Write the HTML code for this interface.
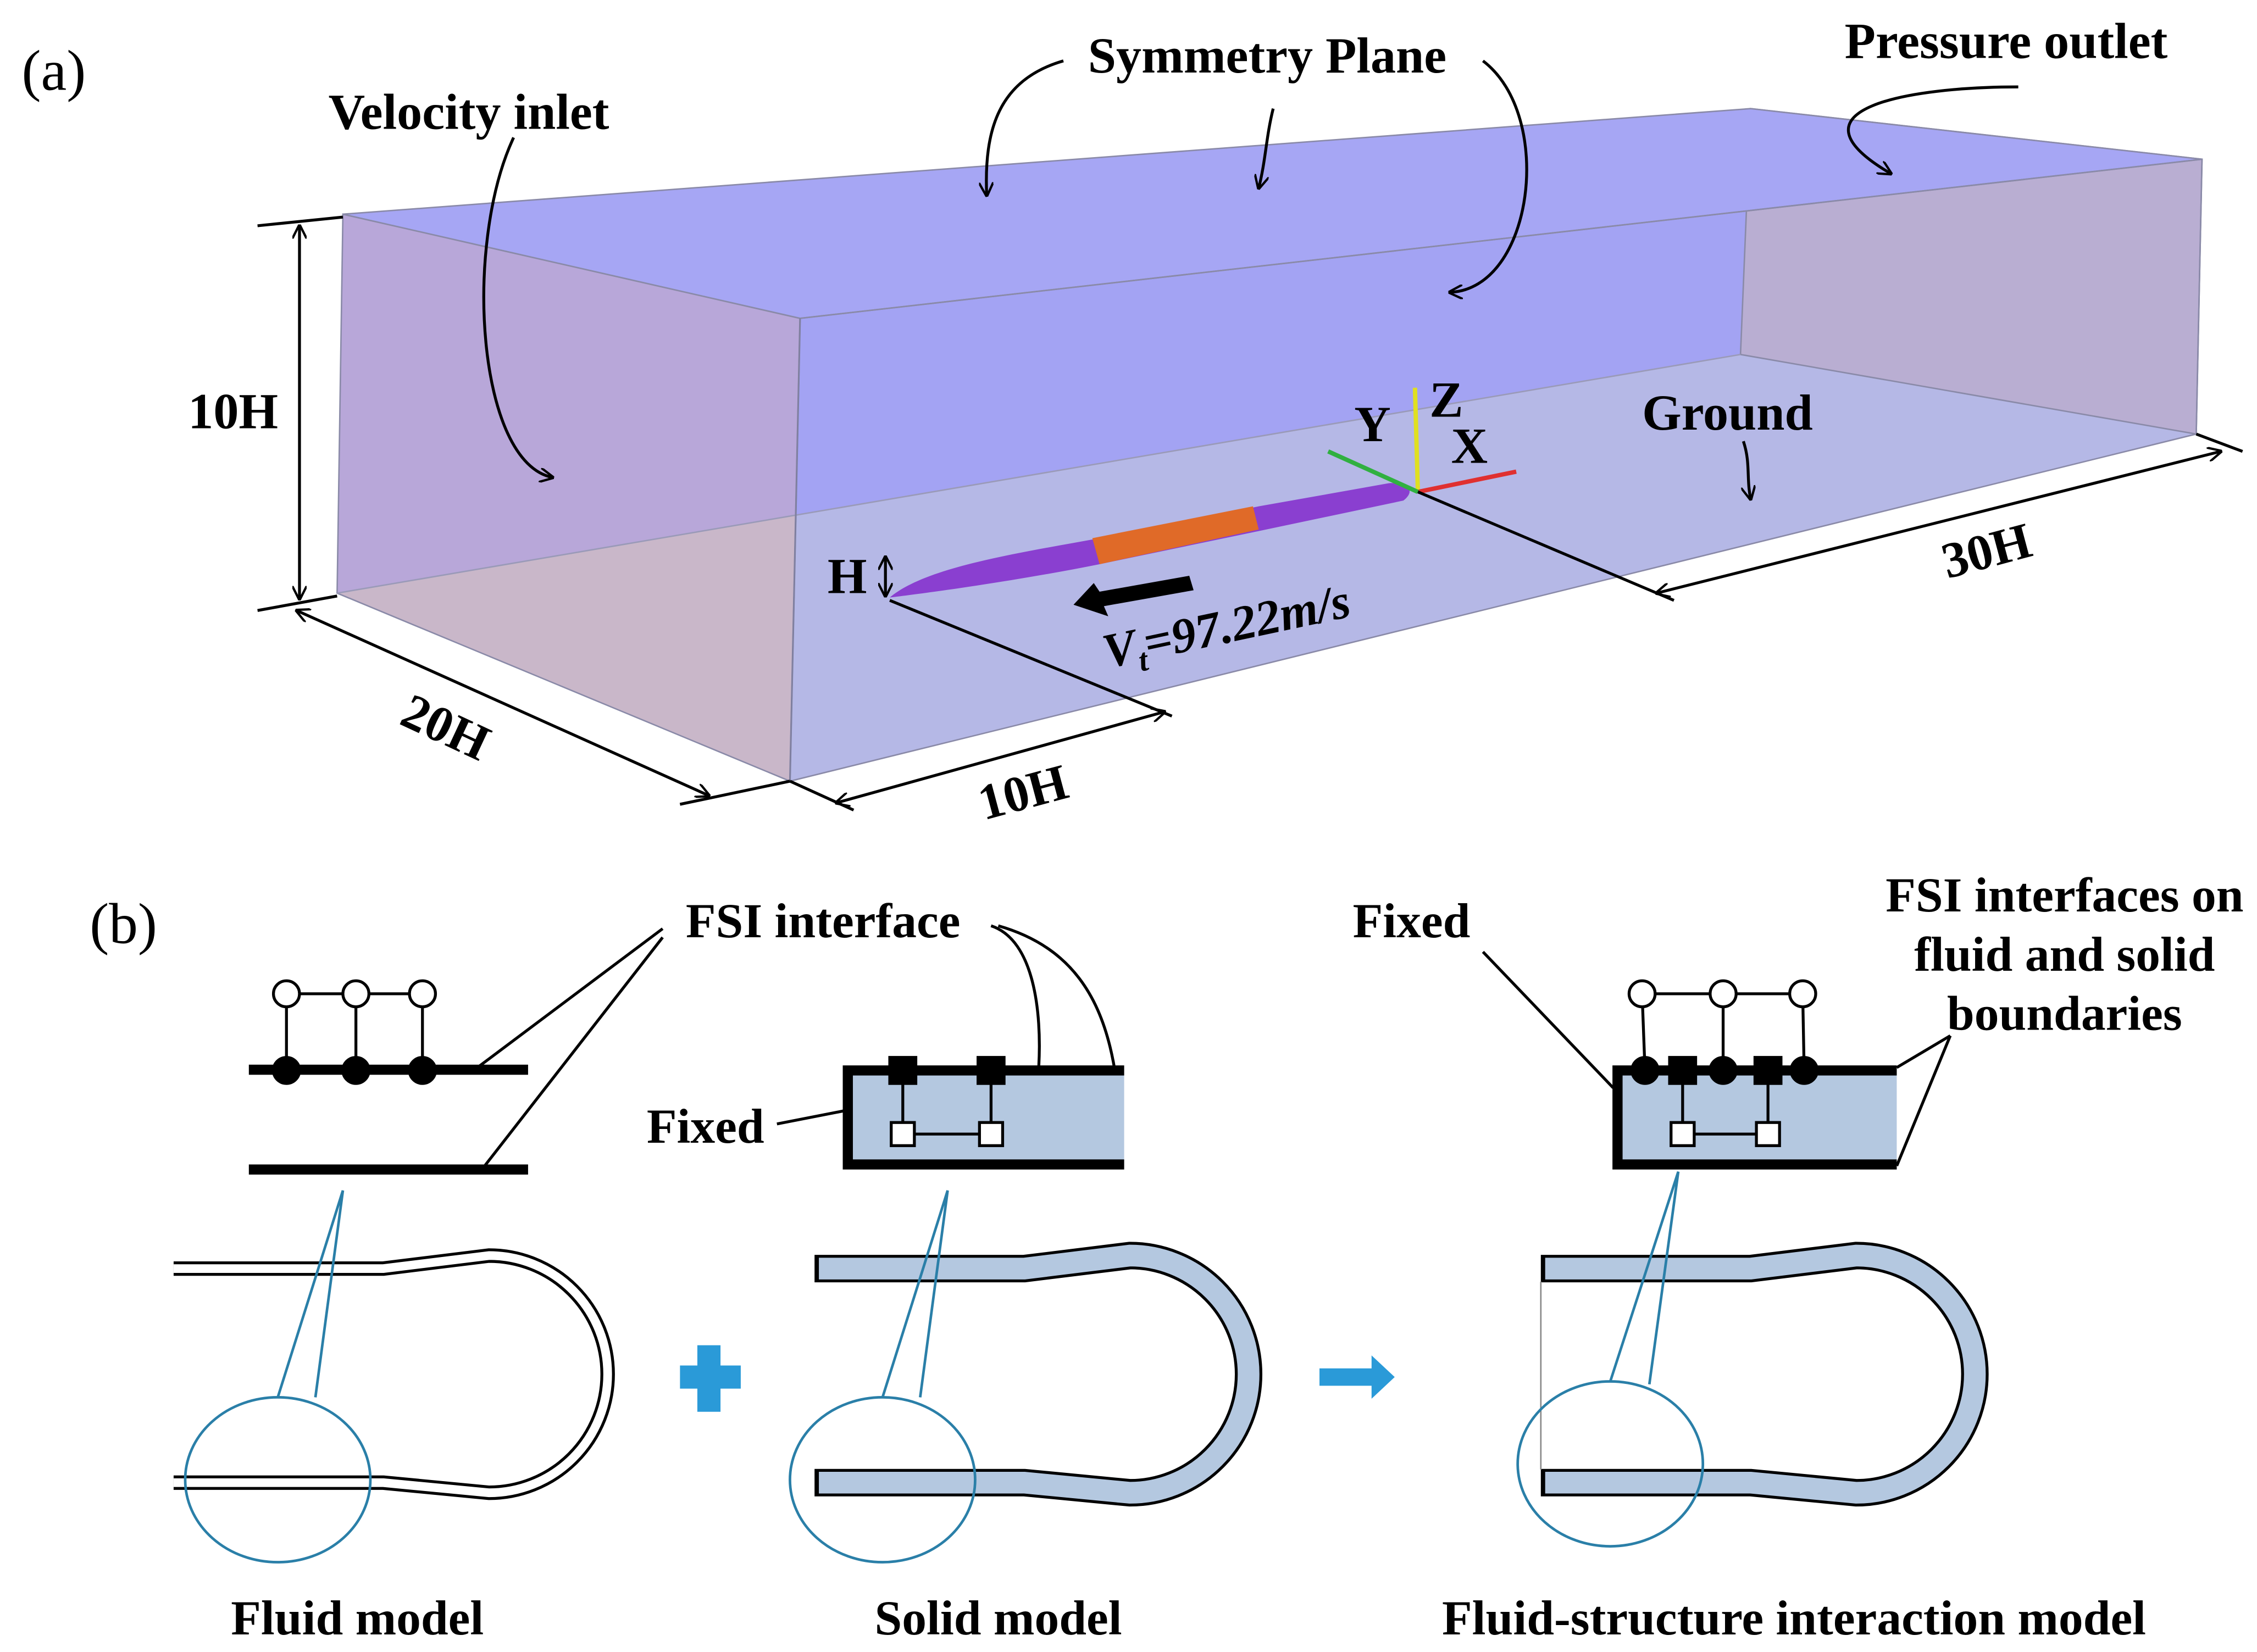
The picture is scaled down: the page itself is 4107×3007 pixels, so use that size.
<!DOCTYPE html>
<html><head><meta charset="utf-8"><style>
html,body{margin:0;padding:0;background:#fff}
svg{display:block}
text{font-family:"Liberation Serif",serif;font-weight:bold;fill:#000}
text.n{font-weight:normal}
text.i{font-style:italic}
</style></head><body>
<svg width="4107" height="3007" viewBox="0 0 1560 1142" xmlns="http://www.w3.org/2000/svg">
<defs>
<marker id="ah" markerWidth="10" markerHeight="10" refX="9" refY="5" orient="auto" markerUnits="userSpaceOnUse"><path d="M0,0 L10,5 L0,10" fill="none" stroke="#000" stroke-width="1.6"/></marker>
<marker id="as" markerWidth="10" markerHeight="10" refX="1" refY="5" orient="auto" markerUnits="userSpaceOnUse"><path d="M10,0 L0,5 L10,10" fill="none" stroke="#000" stroke-width="1.6"/></marker>
</defs>
<rect width="1560" height="1142" fill="#fff"/>
<polygon points="237,148 1210,75 1203,245 233,410" fill="#a3a3f3"/>
<polygon points="233,410 1203,245 1518,300 546,540" fill="#b5b8e6"/>
<polygon points="237,148 553,220 550,356 233,410" fill="#b8a7d9"/>
<polygon points="233,410 550,356 546,540" fill="#c9b7c9"/>
<polygon points="237,148 553,220 546,540 233,410" fill="none" stroke="#8a8aa8" stroke-width="1"/>
<polygon points="1210,75 1522,110 1518,300 1203,245" fill="#b9aed2" stroke="#8a8aa8" stroke-width="1"/>
<polygon points="237,148 1210,75 1522,110 553,220" fill="#a6a6f4" stroke="#8a8aa8" stroke-width="1"/>
<polygon points="553,220 1522,110 1518,300 546,540" fill="none" stroke="#8a8aa8" stroke-width="1"/>
<line x1="233" y1="410" x2="1203" y2="245" stroke="#9a9ab8" stroke-width="1"/>
<line x1="553" y1="220" x2="546" y2="540" stroke="#8080a0" stroke-width="1.2"/>
<path d="M615,413 C640,392 700,383 760,372 L870,350 L960,334 C975,333 978,340 970,346 L880,365 L760,390 C700,402 640,410 615,413 Z" fill="#8a3fd0"/>
<path d="M755,372 L866,350 L870,366 L760,390 Z" fill="#e06a28"/>
<line x1="980" y1="340" x2="978" y2="268" stroke="#e0e020" stroke-width="3"/>
<line x1="980" y1="340" x2="1048" y2="326" stroke="#e03030" stroke-width="3"/>
<line x1="980" y1="340" x2="918" y2="312" stroke="#30b040" stroke-width="3"/>
<g stroke="#000" stroke-width="2" fill="none">
<line x1="178" y1="156" x2="237" y2="150"/>
<line x1="178" y1="422" x2="233" y2="412"/>
<line x1="207" y1="156" x2="207" y2="414" marker-start="url(#as)" marker-end="url(#ah)"/>
<line x1="205" y1="422" x2="490" y2="550" marker-start="url(#as)" marker-end="url(#ah)"/>
<line x1="470" y1="556" x2="546" y2="540"/>
<line x1="578" y1="555" x2="805" y2="492" marker-start="url(#as)" marker-end="url(#ah)"/>
<line x1="546" y1="540" x2="590" y2="560"/>
<line x1="615" y1="415" x2="810" y2="495"/>
<line x1="980" y1="340" x2="1157" y2="415"/>
<line x1="1145" y1="410" x2="1535" y2="312" marker-start="url(#as)" marker-end="url(#ah)"/>
<line x1="1518" y1="300" x2="1550" y2="312"/>
<line x1="612" y1="385" x2="612" y2="412" marker-start="url(#as)" marker-end="url(#ah)"/>
<path d="M355,95 C320,170 330,320 382,330" marker-end="url(#ah)"/>
<path d="M735,42 C690,55 680,90 682,135" marker-end="url(#ah)"/>
<path d="M880,75 C875,95 875,110 870,130" marker-end="url(#ah)"/>
<path d="M1025,42 C1075,80 1060,200 1002,202" marker-end="url(#ah)"/>
<path d="M1395,60 C1320,60 1230,75 1307,120" marker-end="url(#ah)"/>
<path d="M1205,305 C1210,320 1207,330 1210,345" marker-end="url(#ah)"/>
</g>
<polygon points="742,418 756,403 760,409 822,398 825,408 763,419 766,426" fill="#000"/>
<g font-size="35">
<text class="n" x="15" y="62" font-size="40">(a)</text>
<text x="227" y="89">Velocity inlet</text>
<text x="752" y="50">Symmetry Plane</text>
<text x="1275" y="40">Pressure outlet</text>
<text x="130" y="296">10H</text>
<text x="1135" y="297">Ground</text>
<text x="572" y="410">H</text>
<text x="936" y="305">Y</text>
<text x="988" y="288">Z</text>
<text x="1003" y="320">X</text>
<text class="i" transform="translate(765,462) rotate(-12)" font-size="34">V<tspan font-size="22" dy="7">t</tspan><tspan dy="-7">=97.22m/s</tspan></text>
<text transform="translate(275,500) rotate(25)">20H</text>
<text transform="translate(680,567) rotate(-15)">10H</text>
<text transform="translate(1346,400) rotate(-15)">30H</text>
</g>
<g font-size="34">
<text class="n" x="62" y="652" font-size="40">(b)</text>
<text x="474" y="648">FSI interface</text>
<text x="447" y="790">Fixed</text>
<text x="935" y="648">Fixed</text>
<text x="1427" y="630" text-anchor="middle">FSI interfaces on</text>
<text x="1427" y="671" text-anchor="middle">fluid and solid</text>
<text x="1427" y="712" text-anchor="middle">boundaries</text>
<text x="247" y="1130" text-anchor="middle">Fluid model</text>
<text x="690" y="1130" text-anchor="middle">Solid model</text>
<text x="1240" y="1130" text-anchor="middle">Fluid-structure interaction model</text>
</g>
<g stroke="#000" stroke-width="2" fill="none">
<line x1="458" y1="642" x2="330" y2="738"/>
<line x1="458" y1="648" x2="335" y2="806"/>
<path d="M685,640 C715,650 720,700 718,737"/>
<path d="M690,640 C760,660 775,720 775,806"/>
<line x1="537" y1="777" x2="583" y2="768"/>
<line x1="1025" y1="658" x2="1115" y2="752"/>
<line x1="1348" y1="716" x2="1311" y2="738"/>
<line x1="1348" y1="716" x2="1311" y2="806"/>
</g>
<rect x="172" y="736" width="193" height="7" fill="#000"/>
<rect x="172" y="805" width="193" height="7" fill="#000"/>
<g stroke="#000" stroke-width="2" fill="#fff">
<line x1="198" y1="687" x2="198" y2="740"/><line x1="246" y1="687" x2="246" y2="740"/><line x1="292" y1="687" x2="292" y2="740"/>
<line x1="198" y1="687" x2="292" y2="687"/>
<circle cx="198" cy="687" r="9"/><circle cx="246" cy="687" r="9"/><circle cx="292" cy="687" r="9"/>
<circle cx="198" cy="740" r="9" fill="#000"/><circle cx="246" cy="740" r="9" fill="#000"/><circle cx="292" cy="740" r="9" fill="#000"/>
</g>
<rect x="583" y="737" width="194" height="71" fill="#b4c8e0"/>
<path d="M777,740 H586 V805 H777" fill="none" stroke="#000" stroke-width="7"/>
<g stroke="#000" stroke-width="2" fill="#fff">
<path d="M624,740 V784 H685 V740" fill="none"/>
<rect x="615" y="731" width="18" height="18" fill="#000"/><rect x="676" y="731" width="18" height="18" fill="#000"/>
<rect x="616" y="776" width="16" height="16"/><rect x="677" y="776" width="16" height="16"/>
</g>
<rect x="1115" y="737" width="196" height="71" fill="#b4c8e0"/>
<path d="M1311,740 H1118 V805 H1311" fill="none" stroke="#000" stroke-width="7"/>
<g stroke="#000" stroke-width="2" fill="#fff">
<path d="M1163,740 V784 H1222 V740" fill="none"/>
<line x1="1135" y1="687" x2="1137" y2="740"/><line x1="1191" y1="687" x2="1191" y2="740"/><line x1="1246" y1="687" x2="1247" y2="740"/>
<line x1="1135" y1="687" x2="1246" y2="687"/>
<circle cx="1135" cy="687" r="9"/><circle cx="1191" cy="687" r="9"/><circle cx="1246" cy="687" r="9"/>
<circle cx="1137" cy="740" r="9" fill="#000"/><circle cx="1191" cy="740" r="9" fill="#000"/><circle cx="1247" cy="740" r="9" fill="#000"/>
<rect x="1154" y="731" width="18" height="18" fill="#000"/><rect x="1213" y="731" width="18" height="18" fill="#000"/>
<rect x="1155" y="776" width="16" height="16"/><rect x="1214" y="776" width="16" height="16"/>
</g>
<path d="M120,877 H265 L338,868 A82,82 0 0 1 338,1032 L265,1025 H120" fill="none" stroke="#000" stroke-width="10"/>
<path d="M120,877 H265 L338,868 A82,82 0 0 1 338,1032 L265,1025 H120" fill="none" stroke="#fff" stroke-width="6"/>
<path d="M563,877 H708 L781,868 A82,82 0 0 1 781,1032 L708,1025 H563" fill="none" stroke="#000" stroke-width="19"/>
<path d="M566,877 H708 L781,868 A82,82 0 0 1 781,1032 L708,1025 H566" fill="none" stroke="#b4c8e0" stroke-width="15"/>
<path d="M1065,877 H1210 L1283,868 A82,82 0 0 1 1283,1032 L1210,1025 H1065" fill="none" stroke="#000" stroke-width="19"/>
<path d="M1068,877 H1210 L1283,868 A82,82 0 0 1 1283,1032 L1210,1025 H1068" fill="none" stroke="#b4c8e0" stroke-width="15"/>
<line x1="1065" y1="886" x2="1065" y2="1016" stroke="#888" stroke-width="1"/>
<g stroke="#2a7fa8" stroke-width="1.8" fill="none">
<ellipse cx="192" cy="1023" rx="64" ry="57"/>
<path d="M192,966 L237,823 L218,966"/>
<ellipse cx="610" cy="1023" rx="64" ry="57"/>
<path d="M610,966 L655,823 L636,966"/>
<ellipse cx="1113" cy="1012" rx="64" ry="57"/>
<path d="M1113,955 L1160,810 L1140,957"/>
</g>
<path d="M482,930 H498 V944 H512 V960 H498 V976 H482 V960 H470 V944 H482 Z" fill="#2a9ad8"/>
<path d="M912,946 H948 V937 L964,952 L948,967 V958 H912 Z" fill="#2a9ad8"/>
</svg>
</body></html>
